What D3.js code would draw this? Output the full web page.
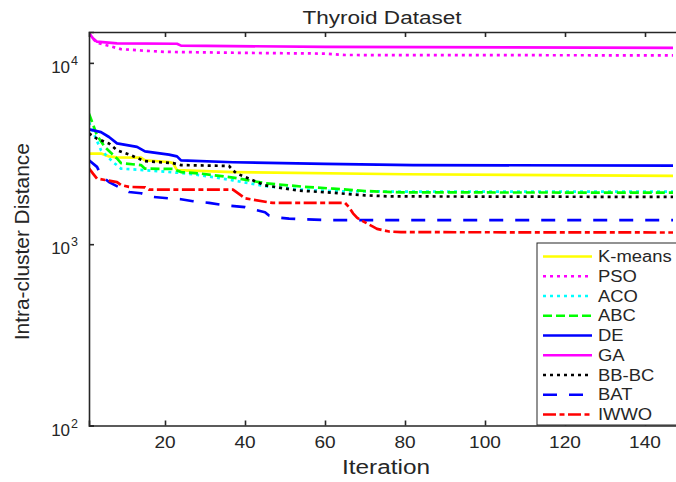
<!DOCTYPE html>
<html>
<head>
<meta charset="utf-8">
<script src="https://cdn.jsdelivr.net/npm/d3@7/dist/d3.min.js"></script>
<style>
  html, body { margin: 0; padding: 0; background: #fff; }
  svg { display: block; }
  text { font-family: "Liberation Sans", Arial, Helvetica, sans-serif; fill: #262626; }
</style>
</head>
<body>
<svg id="chart" width="676" height="482"></svg>
<script>
// Convergence curves: intra-cluster distance per iteration (Thyroid data)
const kmeansIter = [1, 4, 6, 8, 14, 15, 21, 22, 23, 37, 80, 147];
const kmeansVal  = [3160, 3160, 3050, 3010, 3000, 2900, 2840, 2800, 2560, 2500, 2430, 2380];

const psoIter = [1, 2, 3, 6, 9, 14, 20, 40, 60, 65, 147];
const psoVal  = [14500, 13600, 12900, 12400, 11900, 11700, 11500, 11350, 11250, 11050, 11000];

const acoIter = [1, 4, 7, 9, 15, 24, 29, 37, 45, 54, 62, 79, 147];
const acoVal  = [4700, 3300, 2840, 2610, 2560, 2470, 2400, 2250, 2090, 2000, 1960, 1950, 1950];

const abcIter = [1, 3, 5, 8, 9, 14, 15, 22, 24, 29, 37, 45, 54, 62, 70, 79, 147];
const abcVal  = [5250, 3980, 3430, 2970, 2800, 2730, 2610, 2600, 2500, 2450, 2330, 2170, 2080, 2025, 1965, 1930, 1925];

const deIter = [1, 4, 6, 8, 13, 15, 21, 23, 24, 37, 60, 82, 147];
const deVal  = [4300, 4150, 3900, 3600, 3440, 3250, 3120, 3050, 2900, 2830, 2770, 2730, 2714];

const gaIter = [1, 2, 3, 8, 23, 24, 60, 147];
const gaVal  = [14600, 13650, 13090, 12800, 12750, 12450, 12250, 12100];

const bbbcIter = [1, 3, 6, 8, 11, 15, 22, 24, 36, 37, 38, 45, 53, 62, 70, 76, 147];
const bbbcVal  = [4080, 3820, 3590, 3300, 3120, 2870, 2800, 2730, 2700, 2550, 2450, 2110, 1980, 1920, 1860, 1835, 1822];

const batIter = [1, 3, 4, 6, 9, 11, 14, 17, 21, 24, 27, 31, 34, 36, 40, 43, 45, 46, 48, 51, 55, 62, 147];
const batVal  = [2900, 2670, 2400, 2200, 2035, 1940, 1910, 1823, 1790, 1770, 1726, 1690, 1650, 1630, 1600, 1540, 1500, 1440, 1405, 1385, 1370, 1356, 1356];

const iwwoIter = [1, 2, 3, 5, 8, 9, 11, 15, 16, 37, 39, 40, 42, 46, 47, 65, 66, 67, 68, 69, 72, 73, 76, 79, 147];
const iwwoVal  = [2620, 2450, 2300, 2260, 2200, 2120, 2070, 2060, 2000, 2000, 1860, 1790, 1760, 1700, 1690, 1690, 1600, 1480, 1400, 1356, 1250, 1215, 1175, 1165, 1160];

const seriesNames = ["K-means", "PSO", "ACO", "ABC", "DE", "GA", "BB-BC", "BAT", "IWWO"];
const xTicks = [20, 40, 60, 80, 100, 120, 140];
const yTicks = [100, 1000, 10000];
const yTickExp = ["2", "3", "4"];

const series = [
  { name: seriesNames[0], it: kmeansIter, v: kmeansVal, color: "#ffff00", dash: null },
  { name: seriesNames[1], it: psoIter,    v: psoVal,    color: "#ff00ff", dash: "3,4" },
  { name: seriesNames[2], it: acoIter,    v: acoVal,    color: "#00ffff", dash: "3,4" },
  { name: seriesNames[3], it: abcIter,    v: abcVal,    color: "#00ff00", dash: "9,4" },
  { name: seriesNames[4], it: deIter,     v: deVal,     color: "#0000ff", dash: null },
  { name: seriesNames[5], it: gaIter,     v: gaVal,     color: "#ff00ff", dash: null },
  { name: seriesNames[6], it: bbbcIter,   v: bbbcVal,   color: "#000000", dash: "3,4" },
  { name: seriesNames[7], it: batIter,    v: batVal,    color: "#0000ff", dash: "14,12" },
  { name: seriesNames[8], it: iwwoIter,   v: iwwoVal,   color: "#ff0000", dash: "13,3.5,5,3.5" }
];

const svg = d3.select("#chart");
const L = 89, R = 677, T = 32, B = 425.5;

const x = d3.scaleLinear().domain([1, 148]).range([L, R]);
const y = d3.scaleLog().domain([100, 14800]).range([B, T]);

// clip region for the curves
svg.append("defs").append("clipPath").attr("id", "plotclip")
  .append("rect").attr("x", L).attr("y", T).attr("width", R - L).attr("height", B - T);

const axisColor = "#262626";

// curves
const line = d3.line().x(d => x(d[0])).y(d => y(d[1]));
const curves = svg.append("g").attr("clip-path", "url(#plotclip)");
series.forEach(s => {
  const pts = s.it.map((it, i) => [it, s.v[i]]);
  curves.append("path")
    .attr("d", line(pts))
    .attr("fill", "none")
    .attr("stroke", s.color)
    .attr("stroke-width", 2.7)
    .attr("stroke-linejoin", "round")
    .attr("stroke-dasharray", s.dash);
});

// axes (box style with inward ticks)
const bottomAxis = d3.axisBottom(x).tickValues(xTicks).tickSize(-5).tickFormat("");
const topAxis = d3.axisTop(x).tickValues(xTicks).tickSize(-5).tickFormat("");
const leftAxis = d3.axisLeft(y).tickValues(yTicks).tickSize(-5).tickFormat("");

function styleAxis(g) {
  g.select(".domain").attr("stroke", axisColor).attr("stroke-width", 1.6);
  g.selectAll(".tick line").attr("stroke", axisColor).attr("stroke-width", 1.6);
}
svg.append("g").attr("transform", `translate(0,${B})`).call(bottomAxis).call(styleAxis);
svg.append("g").attr("transform", `translate(0,${T})`).call(topAxis).call(styleAxis);
svg.append("g").attr("transform", `translate(${L},0)`).call(leftAxis).call(styleAxis);

// x tick labels
svg.append("g").selectAll("text").data(xTicks).join("text")
  .attr("x", d => x(d)).attr("y", 448)
  .attr("text-anchor", "middle")
  .attr("font-size", 16.5)
  .attr("textLength", d => String(d).length * 10.6)
  .attr("lengthAdjust", "spacingAndGlyphs")
  .text(d => d);

// y tick labels (10 with superscript exponent)
yTicks.forEach((v, i) => {
  const t = svg.append("text")
    .attr("x", 78).attr("y", y(v) + 10)
    .attr("text-anchor", "end")
    .attr("font-size", 17);
  t.append("tspan").text("10");
  t.append("tspan").attr("dy", -8).attr("font-size", 12.5).attr("dx", 1).text(yTickExp[i]);
});

// title and axis labels
svg.append("text").attr("x", 382).attr("y", 24)
  .attr("text-anchor", "middle").attr("font-size", 17.5)
  .attr("textLength", 159).attr("lengthAdjust", "spacingAndGlyphs")
  .attr("fill", "#000")
  .text("Thyroid Dataset");

svg.append("text").attr("x", 386).attr("y", 474)
  .attr("text-anchor", "middle").attr("font-size", 20)
  .attr("textLength", 88).attr("lengthAdjust", "spacingAndGlyphs")
  .text("Iteration");

svg.append("text")
  .attr("transform", `translate(29,${(T + B) / 2 + 13}) rotate(-90)`)
  .attr("text-anchor", "middle").attr("font-size", 19.5)
  .attr("textLength", 197).attr("lengthAdjust", "spacingAndGlyphs")
  .text("Intra-cluster Distance");

// legend
const lg = svg.append("g");
lg.append("rect")
  .attr("x", 537).attr("y", 243).attr("width", 160).attr("height", 182)
  .attr("fill", "#fff").attr("stroke", "#262626").attr("stroke-width", 1);
series.forEach((s, i) => {
  const cy = 256.5 + i * 19.75;
  lg.append("line")
    .attr("x1", 543).attr("x2", 592).attr("y1", cy).attr("y2", cy)
    .attr("stroke", s.color).attr("stroke-width", 2.7)
    .attr("stroke-dasharray", s.dash);
  const t = lg.append("text")
    .attr("x", 598).attr("y", cy + 5.5)
    .attr("font-size", 16)
    .attr("fill", "#000")
    .text(s.name);
  const w = t.node().getComputedTextLength();
  t.attr("textLength", w * 1.15).attr("lengthAdjust", "spacingAndGlyphs");
});
</script>
</body>
</html>
